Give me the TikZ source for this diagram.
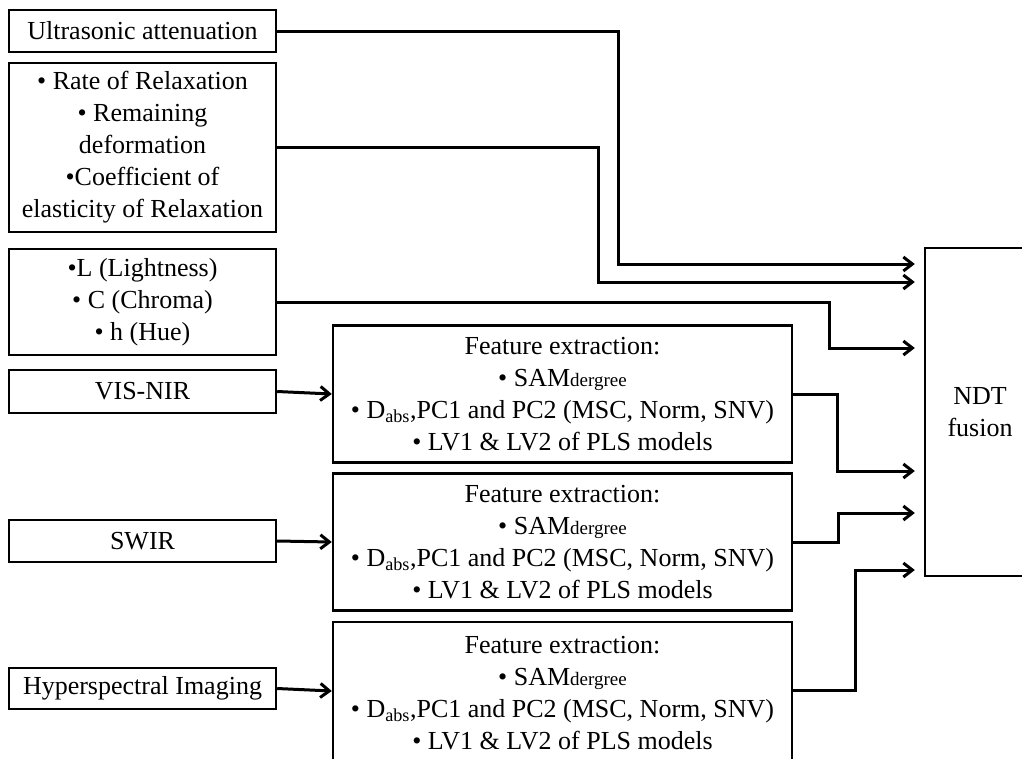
\documentclass[tikz,border=0pt]{standalone}
\usepackage{fontspec}
\setmainfont{Liberation Serif}
\usetikzlibrary{arrows.meta}

\begin{document}
\begin{tikzpicture}[x=1pt, y=-1pt, every node/.style={font=\fontsize{26}{32}\selectfont}]
    % Define styles
    \tikzstyle{source} = [rectangle, minimum width=267pt, inner sep=0pt, text centered, align=center, draw=black, line width=2.4pt]
    \tikzstyle{feature} = [rectangle, minimum width=459pt, minimum height=137pt, inner sep=0pt, text centered, align=center, draw=black, line width=2.4pt]
    \tikzstyle{fusion} = [rectangle, minimum width=110pt, minimum height=328pt, inner sep=0pt, text centered, align=center, draw=black, line width=2.4pt]
    \tikzstyle{arrow} = [line width=3pt, -{Straight Barb[length=9pt, width=14pt]}]
    \tikzstyle{feed} = [arrow, shorten >=9pt]

    % Page frame (boxes at the right and bottom are cut off)
    \clip (0,0) rectangle (1022,758);

    % Left column: measurements
    \node (ultra) [source, minimum height=42pt] at (142.5, 31) {Ultrasonic attenuation};
    \node (relax) [source, minimum height=169pt] at (142.5, 147.5) {• Rate of Relaxation\\• Remaining\\deformation\\•Coefficient of\\elasticity of Relaxation};
    \node (lch) [source, minimum height=106pt] at (142.5, 302) {•L (Lightness)\\• C (Chroma)\\• h (Hue)};
    \node (vis) [source, minimum height=43pt] at (142.5, 391.5) {VIS-NIR};
    \node (swir) [source, minimum height=42pt] at (142.5, 541) {SWIR};
    \node (hyp) [source, minimum height=41pt] at (142.5, 688.5) {Hyperspectral Imaging};

    % Feature extraction boxes
    \node (fe1) [feature] at (562.5, 394) {Feature extraction:\\• SAM{\fontsize{19}{20}\selectfont dergree}\\• D\textsubscript{abs},PC1 and PC2 (MSC, Norm, SNV)\\• LV1 \& LV2 of PLS models};
    \node (fe2) [feature] at (562.5, 542) {Feature extraction:\\• SAM{\fontsize{19}{20}\selectfont dergree}\\• D\textsubscript{abs},PC1 and PC2 (MSC, Norm, SNV)\\• LV1 \& LV2 of PLS models};
    \node (fe3) [feature, minimum height=142pt] at (562.5, 693) {Feature extraction:\\• SAM{\fontsize{19}{20}\selectfont dergree}\\• D\textsubscript{abs},PC1 and PC2 (MSC, Norm, SNV)\\• LV1 \& LV2 of PLS models};

    % Fusion
    \node (ndt) [fusion] at (980, 412) {NDT\\fusion};

    % Spectra into feature extraction
    \draw [arrow] (vis.east) -- (fe1.west);
    \draw [arrow] (swir.east) -- (fe2.west);
    \draw [arrow] (hyp.east) -- ([yshift=2pt]fe3.west);

    % Everything into NDT fusion
    \draw [feed] (ultra.east) -- ++(341,0) |- ([yshift=148pt]ndt.west);
    \draw [feed] (relax.east) -- ++(321,0) |- ([yshift=130pt]ndt.west);
    \draw [feed] (lch.east) -- ++(552,0) |- ([yshift=64pt]ndt.west);
    \draw [feed] (fe1.east) -- ++(44,0) |- ([yshift=-59pt]ndt.west);
    \draw [feed] (fe2.east) -- ++(45,0) |- ([yshift=-101pt]ndt.west);
    \draw [feed] ([yshift=3pt]fe3.east) -- ++(62,0) |- ([yshift=-158pt]ndt.west);
\end{tikzpicture}
\end{document}
